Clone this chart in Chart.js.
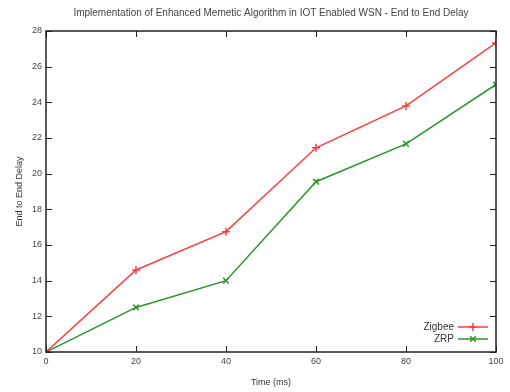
<html>
  <head>
    <script src="https://cdn.jsdelivr.net/npm/chart.js@4.4.0/dist/chart.umd.min.js"></script>
  </head>
  <body style="margin:0">
    <div id="wrapper">
      <canvas id="chart" width="510" height="392"></canvas>
    </div>
    <script>
      const timeLabels = [0, 20, 40, 60, 80, 100];
      const zigbeeDelay = [10, 14.6, 16.75, 21.45, 23.8, 27.33];
      const zrpDelay = [10, 12.5, 14.0, 19.55, 21.67, 25.0];
      const chartTitle = 'Implementation of Enhanced Memetic Algorithm in IOT Enabled WSN - End to End Delay';

      const RED = 'rgb(255, 60, 60)';
      const GREEN = 'rgb(40, 150, 40)';
      const FONT = '"Liberation Sans", Arial, sans-serif';

      // gnuplot style frame, inward ticks, title over the plot and legend inside it
      const framePlugin = {
        id: 'frame',
        afterDraw(chart) {
          const ctx = chart.ctx;
          const a = chart.chartArea;
          const xs = chart.scales.x;
          const ys = chart.scales.y;
          ctx.save();
          ctx.strokeStyle = '#222';
          ctx.lineWidth = 1.5;
          ctx.strokeRect(a.left, a.top, a.right - a.left, a.bottom - a.top);
          ctx.lineWidth = 1;
          ctx.beginPath();
          xs.ticks.forEach(function(t) {
            const px = Math.round(xs.getPixelForValue(t.value)) + 0.5;
            ctx.moveTo(px, a.bottom); ctx.lineTo(px, a.bottom - 6);
            ctx.moveTo(px, a.top); ctx.lineTo(px, a.top + 6);
          });
          ys.ticks.forEach(function(t) {
            const py = Math.round(ys.getPixelForValue(t.value)) + 0.5;
            ctx.moveTo(a.left, py); ctx.lineTo(a.left + 6, py);
            ctx.moveTo(a.right, py); ctx.lineTo(a.right - 6, py);
          });
          ctx.stroke();

          // title
          ctx.font = '10px ' + FONT;
          ctx.fillStyle = '#444';
          ctx.textAlign = 'center';
          ctx.textBaseline = 'middle';
          ctx.fillText(chartTitle, (a.left + a.right) / 2, 13);

          // legend
          ctx.textAlign = 'right';
          chart.data.datasets.forEach(function(ds, i) {
            const y = a.bottom - 25 + i * 12;
            const x1 = a.right - 38, x2 = a.right - 8;
            ctx.fillStyle = '#333';
            ctx.fillText(ds.label, x1 - 4, y);
            ctx.strokeStyle = ds.borderColor;
            ctx.lineWidth = 1.5;
            ctx.beginPath();
            ctx.moveTo(x1, y); ctx.lineTo(x2, y);
            ctx.stroke();
            Chart.helpers.drawPoint(ctx, {pointStyle: ds.pointStyle, radius: 4, borderWidth: 1.5}, (x1 + x2) / 2, y);
          });
          ctx.restore();
        }
      };

      new Chart('chart', {
        type: 'line',
        data: {
          datasets: [
            {
              label: 'Zigbee',
              data: timeLabels.map(function(t, i) { return {x: t, y: zigbeeDelay[i]}; }),
              borderColor: RED,
              backgroundColor: RED,
              borderWidth: 1.5,
              pointStyle: 'cross',
              pointRadius: 4,
              pointBorderWidth: 1.5,
              tension: 0
            },
            {
              label: 'ZRP',
              data: timeLabels.map(function(t, i) { return {x: t, y: zrpDelay[i]}; }),
              borderColor: GREEN,
              backgroundColor: GREEN,
              borderWidth: 1.5,
              pointStyle: 'crossRot',
              pointRadius: 4,
              pointBorderWidth: 1.5,
              tension: 0
            }
          ]
        },
        options: {
          responsive: false,
          animation: false,
          layout: { padding: { left: 0, right: 14, top: 31, bottom: 0 } },
          plugins: {
            legend: { display: false },
            tooltip: { enabled: false },
            title: { display: false }
          },
          scales: {
            x: {
              type: 'linear',
              min: 0,
              max: 100,
              afterFit: function(s) { s.height = 40; },
              grid: { display: false, drawTicks: false },
              border: { display: false },
              ticks: { stepSize: 20, padding: 4, color: '#444', font: { family: FONT, size: 9 } },
              title: { display: true, text: 'Time (ms)', color: '#333', padding: { top: 6 }, font: { family: FONT, size: 9 } }
            },
            y: {
              min: 10,
              max: 28,
              afterFit: function(s) { s.width = 46; },
              grid: { display: false, drawTicks: false },
              border: { display: false },
              ticks: { stepSize: 2, padding: 4, color: '#444', font: { family: FONT, size: 9 } },
              title: { display: true, text: 'End to End Delay', color: '#333', padding: { top: 14, bottom: 4 }, font: { family: FONT, size: 9 } }
            }
          }
        },
        plugins: [framePlugin]
      });
    </script>
  </body>
</html>
